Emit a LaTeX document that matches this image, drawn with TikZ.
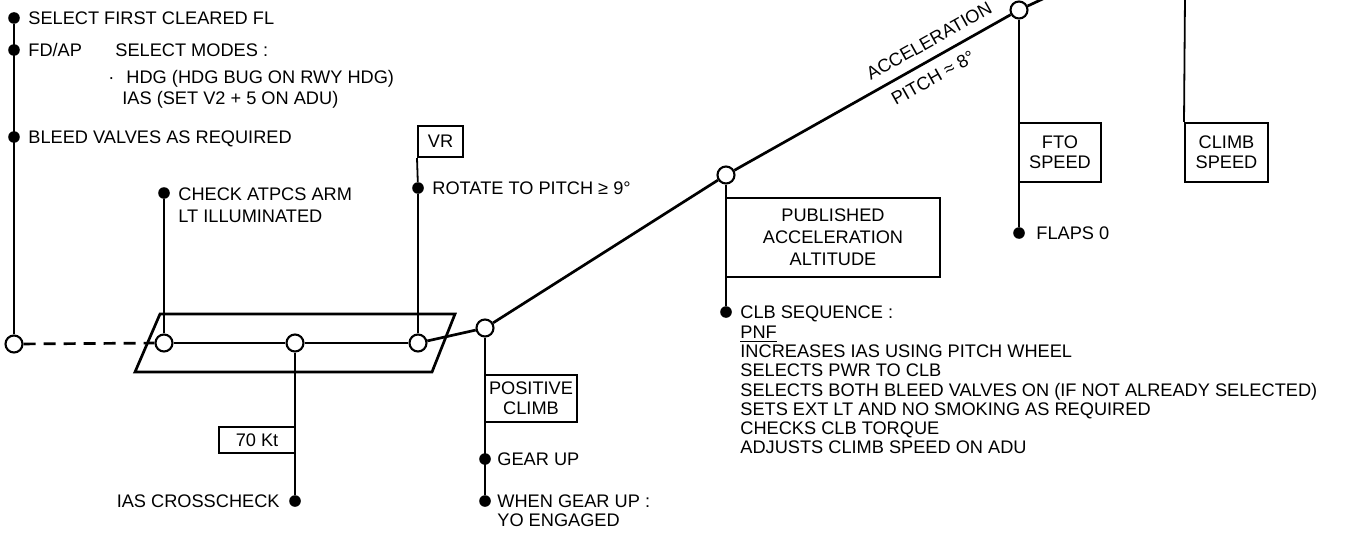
\documentclass[tikz,border=0pt]{standalone}
\usepackage{fontspec}
\setmainfont{Liberation Sans}
\begin{document}
\begin{tikzpicture}[x=0.5pt,y=-0.5pt,
  font=\fontsize{9.1}{10}\selectfont,
  mainline/.style={line width=1.35pt},
  conn/.style={line width=0.9pt},
  evt/.style={circle,draw,fill=white,line width=1.05pt,minimum size=8.5pt,inner sep=0pt},
  bullet/.style={circle,fill=black,minimum size=5.8pt,inner sep=0pt},
  lbl/.style={inner sep=0pt,anchor=base west},
  lblr/.style={inner sep=0pt,anchor=base east},
  tag/.style={draw,line width=1pt,inner sep=0pt,align=center}]
\useasboundingbox (0,0) rectangle (1347,535);
\fill[white] (0,0) rectangle (1347,535);
\clip (0,0) rectangle (1347,535);

% event circles on the flight path
\node[evt] (c0) at (14,344) {};
\node[evt] (c1) at (164,343) {};
\node[evt] (c2) at (295,343) {};
\node[evt] (c3) at (418,343) {};
\node[evt] (c4) at (485,328) {};
\node[evt] (c5) at (726,175) {};
\node[evt] (c6) at (1019,10) {};
\coordinate (topEnd) at (1062,-10);
\coordinate (topCS) at (1185,-5);

% parallelogram corners
\coordinate (pA) at (160,314);
\coordinate (pB) at (455,314);
\coordinate (pC) at (432,372);
\coordinate (pD) at (135,372);

% bullets
\node[bullet] (dSel) at (14,18) {};
\node[bullet] (dFD) at (14,50) {};
\node[bullet] (dBleed) at (14,137) {};
\node[bullet] (dATP) at (164,193) {};
\node[bullet] (dRot) at (418,188) {};
\node[bullet] (dIAS) at (295,501) {};
\node[bullet] (dGear) at (485,459) {};
\node[bullet] (dWhen) at (485,501) {};
\node[bullet] (dCLB) at (726,312) {};
\node[bullet] (dFlaps) at (1019,233) {};

% tag boxes
\node[tag,minimum width=22.5pt,minimum height=15.5pt] (vr) at (440.5,141.5) {VR};
\node[tag,minimum width=38pt,minimum height=13pt] (k70) at (257,440) {70 Kt};
\node[tag,minimum width=46pt,minimum height=23.5pt] (pos) at (531,398.5) {POSITIVE\\CLIMB};
\node[tag,minimum width=107pt,minimum height=39.5pt,font=\fontsize{9.1}{11}\selectfont] (pub) at (833,237.5) {PUBLISHED\\ACCELERATION\\ALTITUDE};
\node[tag,minimum width=41pt,minimum height=29.5pt] (fto) at (1060,152.5) {FTO\\SPEED};
\node[tag,minimum width=41.5pt,minimum height=29.5pt] (cls) at (1226.5,152.5) {CLIMB\\SPEED};

% connectors
\draw[mainline] (c0) -- (dSel);
\draw[mainline,dash pattern=on 6pt off 4pt] (c0) -- (c1);
\draw[mainline] (c1) -- (c2);
\draw[mainline] (c2) -- (c3);
\draw[mainline] (c3) -- (c4);
\draw[mainline] (c4) -- (c5);
\draw[mainline] (c5) -- (c6);
\draw[mainline] (c6) -- (topEnd);
\draw[mainline,line join=miter] (pA) -- (pB) -- (pC) -- (pD) -- cycle;
\draw[conn] (c1) -- (dATP);
\draw[conn] (c3) -- (dRot);
\draw[conn] (dRot) -- (vr.south west);
\draw[conn] (c2) -- (dIAS);
\draw[conn] (c4) -- (dWhen);
\draw[conn] (c5) -- (dCLB);
\draw[conn] (c6) -- (dFlaps);
\draw[conn] (topCS) -- (cls.north west);

% labels
\node[lbl] (tSel) at (28,24.5) {SELECT FIRST CLEARED FL};
\node[lbl] (tFD) at (28,56.5) {FD/AP};
\node[lbl] (tModes) at (115,56.5) {SELECT MODES :};
\node[lbl] (tHDG) at (108,83.5) {·\hspace{6pt}HDG (HDG BUG ON RWY HDG)};
\node[lbl] (tIAS) at (122,104.5) {IAS (SET V2 + 5 ON ADU)};
\node[lbl] (tBleed) at (28,143.5) {BLEED VALVES AS REQUIRED};
\node[lbl] (tATP1) at (178,200.5) {CHECK ATPCS ARM};
\node[lbl] (tATP2) at (178,222.5) {LT ILLUMINATED};
\node[lbl] (tRot) at (432,194.5) {ROTATE TO PITCH ≥ 9°};
\node[lblr] (tIAScc) at (280,507.5) {IAS CROSSCHECK};
\node[lbl] (tGear) at (497,465.5) {GEAR UP};
\node[lbl] (tWhen1) at (497,507.5) {WHEN GEAR UP :};
\node[lbl] (tWhen2) at (497,526.5) {YO ENGAGED};
\node[lbl] (tFlaps) at (1036,239.5) {FLAPS 0};
\node[inner sep=0pt,rotate=29.3] (tAcc) at (929,41) {ACCELERATION};
\node[inner sep=0pt,rotate=29.3] (tPitch) at (933,78) {PITCH ≈ 8°};

\node[lbl] (l1) at (740,318.5) {CLB SEQUENCE :};
\node[lbl] (l2) at (740,338.5) {\underline{PNF}};
\node[lbl] (l3) at (740,357.5) {INCREASES IAS USING PITCH WHEEL};
\node[lbl] (l4) at (740,376.5) {SELECTS PWR TO CLB};
\node[lbl] (l5) at (740,396.5) {SELECTS BOTH BLEED VALVES ON (IF NOT ALREADY SELECTED)};
\node[lbl] (l6) at (740,415.5) {SETS EXT LT AND NO SMOKING AS REQUIRED};
\node[lbl] (l7) at (740,434.5) {CHECKS CLB TORQUE};
\node[lbl] (l8) at (740,453.5) {ADJUSTS CLIMB SPEED ON ADU};
\end{tikzpicture}
\end{document}
